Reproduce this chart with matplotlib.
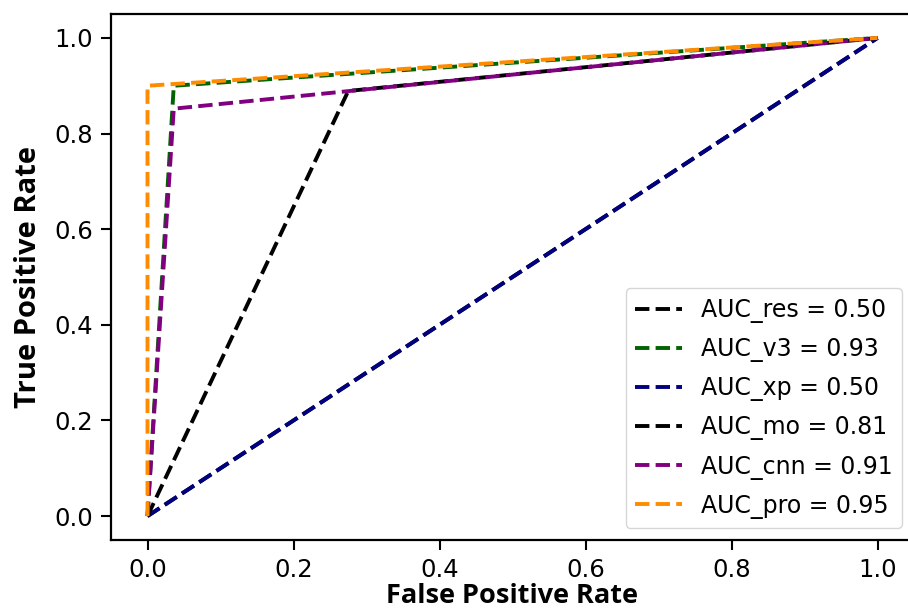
import matplotlib
matplotlib.use("Agg")
import matplotlib.pyplot as plt
from matplotlib import font_manager

# ---- data ----
labels = ["AUC_res = 0.50", "AUC_v3 = 0.93", "AUC_xp = 0.50",
          "AUC_mo = 0.81", "AUC_cnn = 0.91", "AUC_pro = 0.95"]
colors = ["black", "darkgreen", "navy", "black", "purple", "darkorange"]
fpr_res = [0.0, 1.0]
tpr_res = [0.0, 1.0]
fpr_v3 = [0.0, 0.036, 1.0]
tpr_v3 = [0.0, 0.90, 1.0]
fpr_xp = [0.0, 1.0]
tpr_xp = [0.0, 1.0]
fpr_mo = [0.0, 0.275, 1.0]
tpr_mo = [0.0, 0.889, 1.0]
fpr_cnn = [0.0, 0.036, 1.0]
tpr_cnn = [0.0, 0.852, 1.0]
fpr_pro = [0.0, 0.0, 1.0]
tpr_pro = [0.0, 0.90, 1.0]
xticks = [0.0, 0.2, 0.4, 0.6, 0.8, 1.0]
yticks = [0.0, 0.2, 0.4, 0.6, 0.8, 1.0]

plt.rcParams['font.family'] = ['DejaVu Sans']

# pick a bold face for the axis labels
label_family = 'DejaVu Sans'
for cand in ['Open Sans', 'Noto Sans', 'Lato', 'Roboto']:
    bold_faces = [f for f in font_manager.fontManager.ttflist
                  if f.name == cand and (f.weight in ('bold', 700) or
                                         str(f.weight) in ('700', 'bold'))]
    if bold_faces:
        label_family = cand
        break

fig = plt.figure(figsize=(9.08, 6.13), dpi=100)
ax = fig.add_axes([111/908, 73/613, 803/908, 526/613])

series = [(fpr_res, tpr_res), (fpr_v3, tpr_v3), (fpr_xp, tpr_xp),
          (fpr_mo, tpr_mo), (fpr_cnn, tpr_cnn), (fpr_pro, tpr_pro)]
for (x, y), c, lab in zip(series, colors, labels):
    ax.plot(x, y, linestyle='--', color=c, lw=2.8, label=lab)

ax.set_xlim(-0.05, 1.05)
ax.set_ylim(-0.05, 1.05)
ax.set_xticks(xticks)
ax.set_yticks(yticks)
ax.tick_params(labelsize=17.5, width=1.5, length=7, pad=6)
for s in ax.spines.values():
    s.set_linewidth(1.6)
ax.spines['right'].set_visible(False)

xfs = 19.5 if label_family != 'DejaVu Sans' else 17
yfs = 21 if label_family != 'DejaVu Sans' else 18.5
ax.set_xlabel("False Positive Rate", fontsize=xfs, fontweight='bold',
              fontfamily=label_family, labelpad=1)
ax.set_ylabel("True Positive Rate", fontsize=yfs, fontweight='bold',
              fontfamily=label_family, labelpad=8)
leg = ax.legend(loc='lower right', fontsize=17, handlelength=2.0,
                labelspacing=0.6)

fig.savefig("out.png", dpi=100)
